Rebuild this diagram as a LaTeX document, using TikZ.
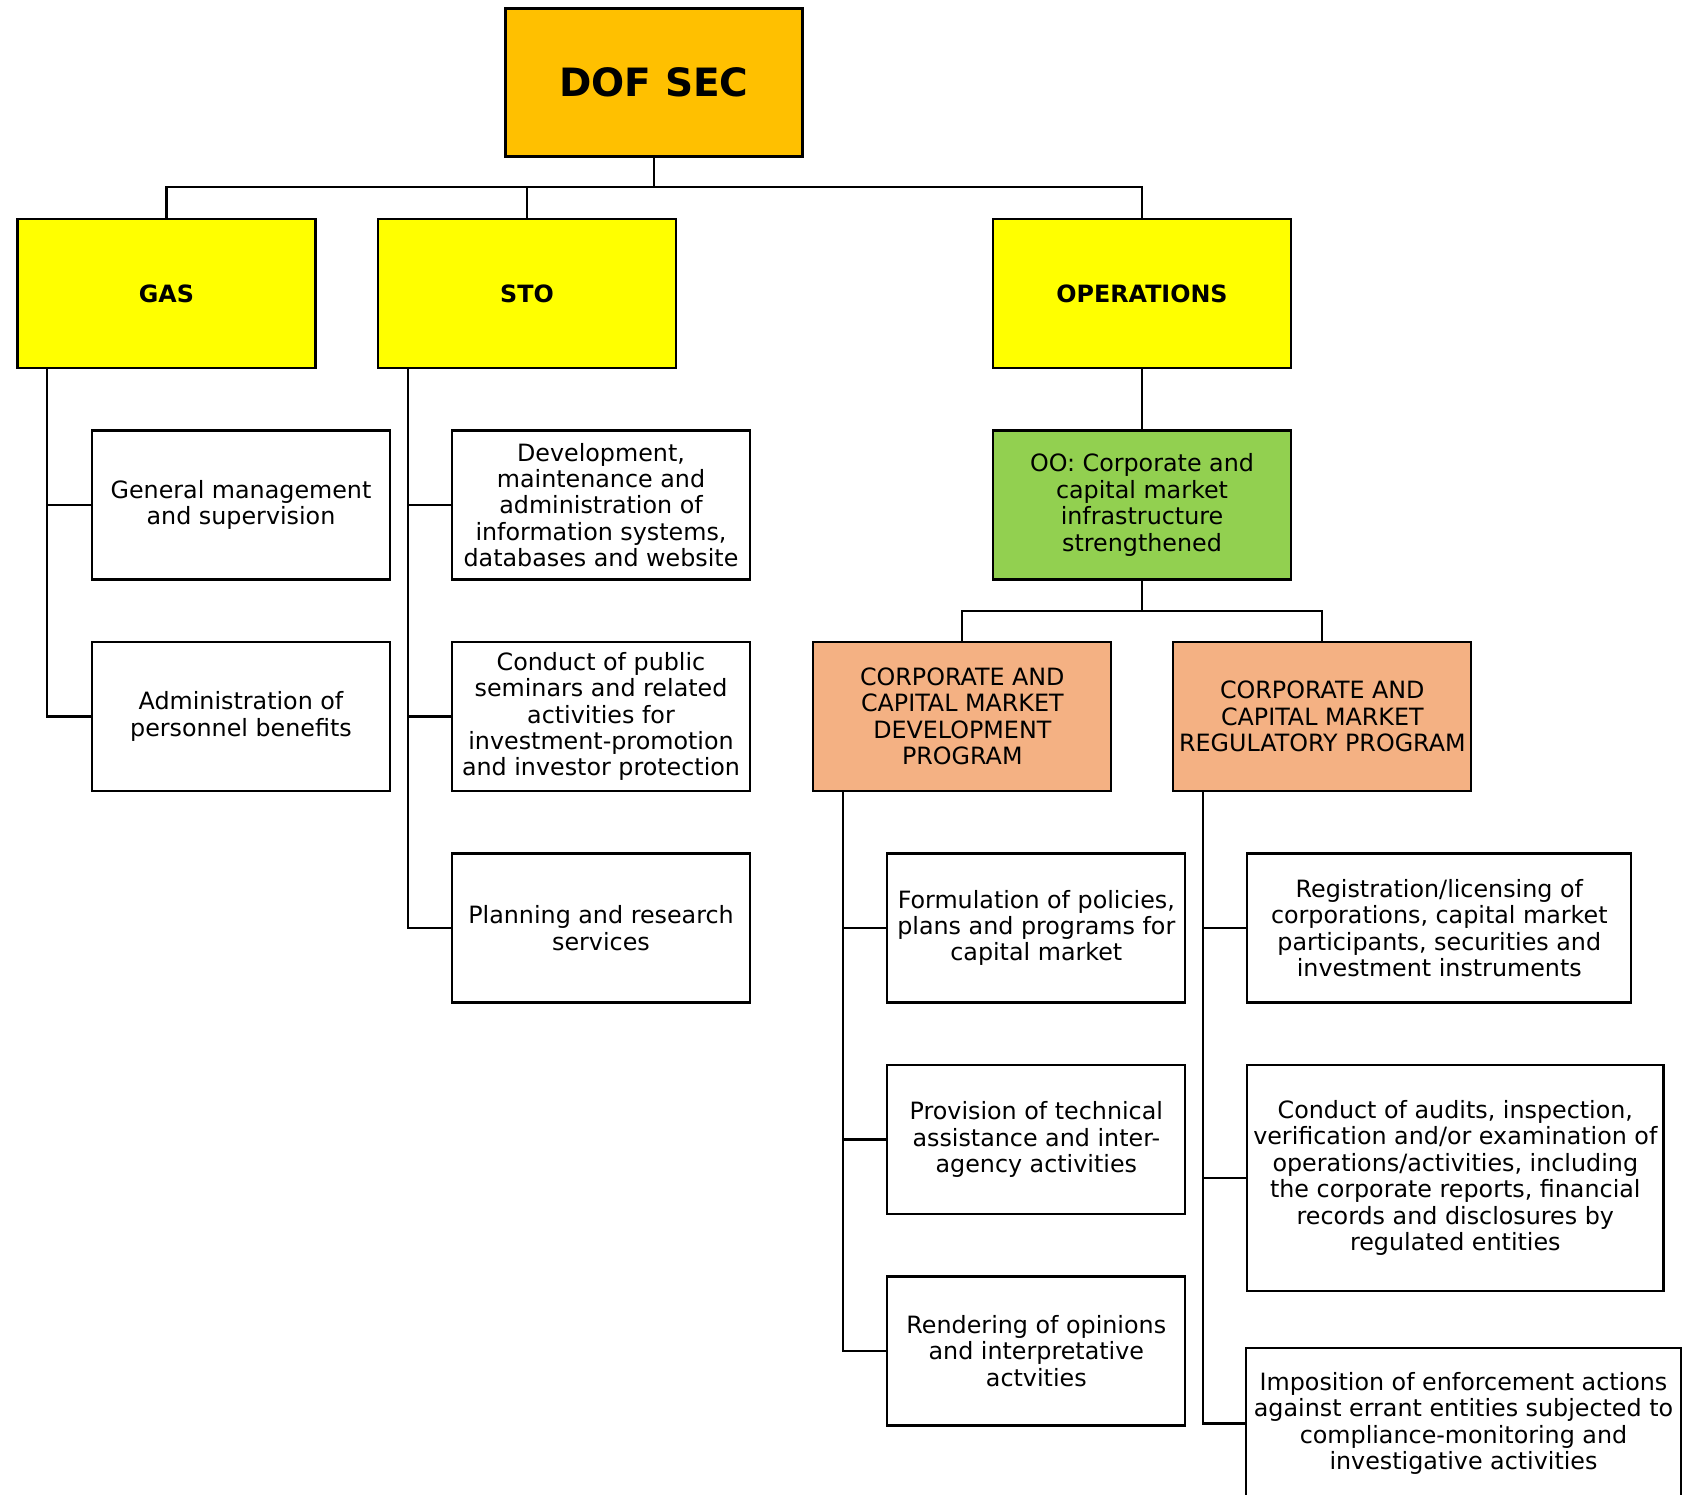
\documentclass[tikz,border=0pt]{standalone}
\usepackage{fontspec}
\setmainfont{DejaVu Sans}
\definecolor{secorange}{HTML}{FFC000}
\definecolor{unityellow}{HTML}{FFFF00}
\definecolor{oogreen}{HTML}{92D050}
\definecolor{progpeach}{HTML}{F4B183}
\begin{document}
\begin{tikzpicture}[x=1pt,y=-1pt,
 box/.style={draw,line width=2.3pt,align=center,inner sep=0pt,minimum width=298pt,minimum height=149pt,font=\fontsize{23.8}{26.4}\selectfont},
 unit/.style={box,fill=unityellow,font=\fontsize{23.8}{26.4}\selectfont\bfseries},
 prog/.style={box,fill=progpeach},
 link/.style={line width=2.3pt}]
 \useasboundingbox (0,0) rectangle (1683,1494);
 \node[box,fill=secorange,minimum width=297pt,minimum height=148pt,font=\fontsize{39}{44}\selectfont\bfseries] (dof) at (654,82.6) {DOF SEC}; %トップ
 \node[unit] (gas) at (166.4,293.5) {GAS};
 \node[unit] (sto) at (527,293.5) {STO};
 \node[unit] (ops) at (1142,293.5) {OPERATIONS};
 \node[box,fill=oogreen] (oo) at (1142,505) {OO: Corporate and\\capital market\\infrastructure\\strengthened};
 \node[prog] (cmd) at (962.3,716.5) {CORPORATE AND\\CAPITAL MARKET\\DEVELOPMENT\\PROGRAM};
 \node[prog] (cmr) at (1322.3,716.5) {CORPORATE AND\\CAPITAL MARKET\\REGULATORY PROGRAM};
 % GAS
 \node[box] (gas1) at (241,505) {General management\\and supervision};
 \node[box] (gas2) at (241,716.5) {Administration of\\personnel benefits};
 % STO
 \node[box] (sto1) at (601,505) {Development,\\maintenance and\\administration of\\information systems,\\databases and website};
 \node[box] (sto2) at (601,716.5) {Conduct of public\\seminars and related\\activities for\\investment-promotion\\and investor protection};
 \node[box] (sto3) at (601,928) {Planning and research\\services};
 % CMD
 \node[box] (cmd1) at (1036.3,928) {Formulation of policies,\\plans and programs for\\capital market};
 \node[box] (cmd2) at (1036.3,1139.5) {Provision of technical\\assistance and inter-\\agency activities};
 \node[box] (cmd3) at (1036.3,1351) {Rendering of opinions\\and interpretative\\actvities};
 % CMR
 \node[box,minimum width=384pt] (cmr1) at (1439.3,928) {Registration/licensing of\\corporations, capital market\\participants, securities and\\investment instruments};
 \node[box,minimum width=416.6pt,minimum height=226.5pt] (cmr2) at (1455.3,1178) {Conduct of audits, inspection,\\verification and/or examination of\\operations/activities, including\\the corporate reports, financial\\records and disclosures by\\regulated entities};
 \node[box,minimum width=435pt,minimum height=151pt] (cmr3) at (1463.5,1423.5) {Imposition of enforcement actions\\against errant entities subjected to\\compliance-monitoring and\\investigative activities};
 % 線
 \coordinate (bus) at (654,186.8);
 \draw[link] (dof.south)--(bus);
 \draw[link] (gas.north)|-(bus)-|(ops.north);
 \draw[link] (sto.north)--(sto.north|-bus);
 \draw[link] (ops.south)--(oo.north);
 \coordinate (bus2) at (1142,610.7);
 \draw[link] (oo.south)--(bus2);
 \draw[link] (cmd.north)|-(bus2)-|(cmr.north);
 \foreach \p/\c in {gas/gas1,gas/gas2,sto/sto1,sto/sto2,sto/sto3,cmd/cmd1,cmd/cmd2,cmd/cmd3,cmr/cmr1,cmr/cmr2,cmr/cmr3}
  \draw[link] ([xshift=31pt]\p.south west)|-(\c.west);
\end{tikzpicture}
\end{document}
